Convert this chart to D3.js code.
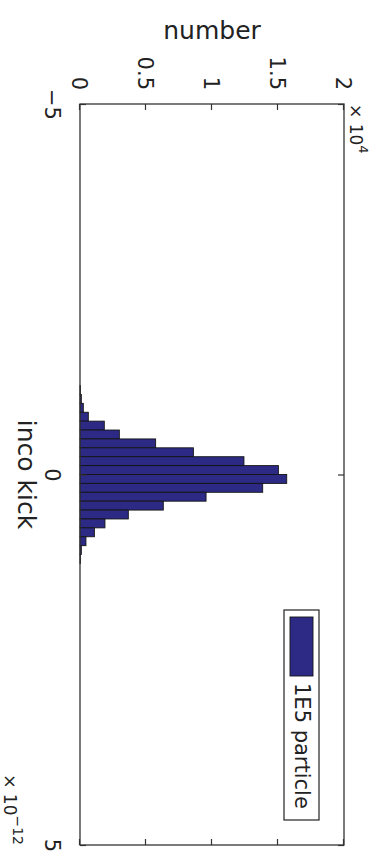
<!DOCTYPE html>
<html>
<head>
<meta charset="utf-8">
<script src="https://cdn.jsdelivr.net/npm/d3@7"></script>
<style>
  html, body { margin: 0; padding: 0; background: #fff; }
  svg { display: block; }
  text { font-family: "DejaVu Sans", sans-serif; fill: #222; }
</style>
</head>
<body>
<svg id="chart" width="386" height="865"></svg>
<script>
// ---- data ----
// bin centres of "inco kick", in units of 1e-12
const kickCenters = [-1.14, -1.02, -0.90, -0.78, -0.66, -0.54, -0.42, -0.30, -0.18, -0.06,
                      0.06,  0.18,  0.30,  0.42,  0.54,  0.66,  0.78,  0.90,  1.02,  1.14];
// counts per bin
const counts = [30, 100, 250, 630, 1840, 2980, 5730, 8590, 12420, 15030,
                15660, 13840, 9550, 6310, 3660, 1890, 1090, 450, 100, 30];
const binWidth = 0.12;
const kickTicks = [-5, 0, 5];
const kickTickLabels = ["\u22125", "0", "5"];
const numberTicks = [0, 5000, 10000, 15000, 20000];
const numberTickLabels = ["0", "0.5", "1", "1.5", "2"];
const seriesName = "1E5 particle";
const xLabel = "inco kick";
const yLabel = "number";

// ---- layout: the MATLAB figure is drawn in its own frame, then turned 90° clockwise ----
const W = 741, H = 264;
const svg = d3.select("#chart");
svg.append("rect").attr("width", 386).attr("height", 865).attr("fill", "#fff");
const g = svg.append("g").attr("transform", "translate(344,104) rotate(90)");

const x = d3.scaleLinear().domain([-5, 5]).range([0, W]);
const y = d3.scaleLinear().domain([0, 20000]).range([H, 0]);

const barFill = "#2c2a85";

// bars
g.selectAll("rect.bar").data(kickCenters).join("rect")
  .attr("class", "bar")
  .attr("x", d => x(d - binWidth / 2))
  .attr("width", d => x(d + binWidth / 2) - x(d - binWidth / 2))
  .attr("y", (d, i) => y(counts[i]))
  .attr("height", (d, i) => y(0) - y(counts[i]))
  .attr("fill", barFill)
  .attr("stroke", "#141414")
  .attr("stroke-width", 0.9);

// axes (inward ticks on all four sides)
const axisStyle = sel => {
  sel.select(".domain").remove();
  sel.selectAll(".tick line").attr("stroke", "#333").attr("stroke-width", 1.2);
};
const xb = g.append("g").attr("transform", `translate(0,${H})`)
  .call(d3.axisBottom(x).tickValues(kickTicks).tickSizeInner(-6).tickSizeOuter(0)
        .tickFormat((d, i) => kickTickLabels[i]));
axisStyle(xb);
xb.selectAll(".tick text").attr("y", 35).attr("dy", null)
  .attr("font-size", 21).attr("fill", "#222");

const xt = g.append("g")
  .call(d3.axisTop(x).tickValues(kickTicks).tickSizeInner(-6).tickSizeOuter(0).tickFormat(""));
axisStyle(xt);

const yl = g.append("g")
  .call(d3.axisLeft(y).tickValues(numberTicks).tickSizeInner(-6).tickSizeOuter(0)
        .tickFormat((d, i) => numberTickLabels[i]));
axisStyle(yl);
yl.selectAll(".tick text").attr("x", -14).attr("dy", "0.36em")
  .attr("font-size", 21).attr("fill", "#222");

const yr = g.append("g").attr("transform", `translate(${W},0)`)
  .call(d3.axisRight(y).tickValues(numberTicks).tickSizeInner(-6).tickSizeOuter(0).tickFormat(""));
axisStyle(yr);

// box
g.append("rect").attr("x", 0).attr("y", 0).attr("width", W).attr("height", H)
  .attr("fill", "none").attr("stroke", "#333").attr("stroke-width", 1.3);

// exponent labels
const e4 = g.append("text").attr("x", 0).attr("y", -6).attr("font-size", 17);
e4.append("tspan").text("\u00d7 10");
e4.append("tspan").attr("dy", -9).attr("font-size", 13).text("4");

const e12 = g.append("text").attr("x", W).attr("y", 340).attr("text-anchor", "end").attr("font-size", 17);
e12.append("tspan").text("\u00d7 10");
e12.append("tspan").attr("dy", -9).attr("font-size", 14).text("\u221212");

// axis labels
g.append("text").attr("x", x(0)).attr("y", 326).attr("text-anchor", "middle")
  .attr("font-size", 25).text(xLabel);
g.append("text").attr("transform", `translate(-65,${H / 2}) rotate(-90)`)
  .attr("text-anchor", "middle").attr("font-size", 25).text(yLabel);

// legend
const lg = g.append("g").attr("transform", "translate(506,25)");
lg.append("rect").attr("width", 210).attr("height", 35)
  .attr("fill", "#fff").attr("stroke", "#222").attr("stroke-width", 1.2);
lg.append("rect").attr("x", 7).attr("y", 6).attr("width", 59).attr("height", 23)
  .attr("fill", barFill).attr("stroke", "#141414").attr("stroke-width", 0.9);
lg.append("text").attr("x", 73).attr("y", 24).attr("font-size", 21).text(seriesName);
</script>
</body>
</html>
